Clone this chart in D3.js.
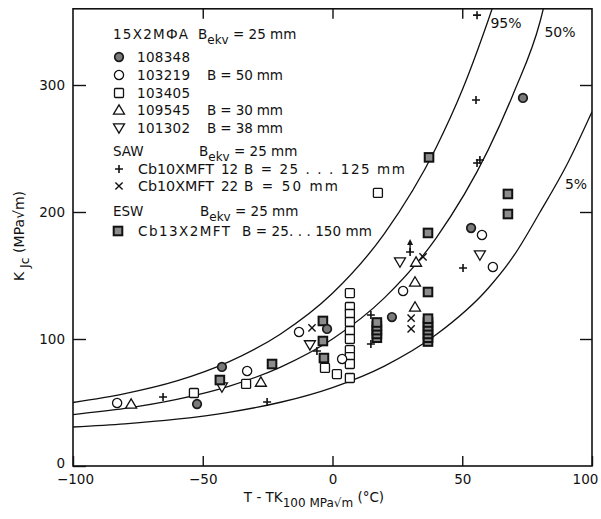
<!DOCTYPE html>
<html><head><meta charset="utf-8">
<script src="https://cdn.jsdelivr.net/npm/d3@7"></script>
<style>
body{margin:0;background:#fff;}
text{font-family:"DejaVu Sans",sans-serif;fill:#111;}
</style></head>
<body>
<svg id="c" width="601" height="519"></svg>
<script>
// ---- data ----
const xTicks = [-100, -50, 0, 50, 100];
const yTicks = [0, 100, 200, 300];

// master-curve lines (T - TK100, KJc)
const c95T = [-100, -80, -60, -40, -20, 0, 20, 40, 50, 60, 64];
const c95K = [50, 57, 67, 82, 104, 136, 183, 251, 296, 351, 375];
const c50T = [-100, -80, -60, -40, -20, 0, 20, 40, 60, 70, 80, 83];
const c50K = [40.5, 45.3, 52.4, 62.7, 77.9, 100, 132.4, 179.7, 248.9, 294.7, 350, 375];
const c5T = [-100, -80, -60, -40, -20, 0, 20, 40, 60, 70, 80, 90, 100];
const c5K = [30.7, 33.2, 36.9, 42.3, 50.2, 61.8, 78.7, 103.5, 140, 166, 200, 236, 279];
const curveLabels = ["95%", "50%", "5%"];

// 15X2MFA specimens
const s108348T = [-52.2, -42.6, -2.1, 22.9, 53.4, 73.4];
const s108348K = [48.8, 78.0, 107.9, 117.3, 187.4, 289.8];
const s103219T = [-83.0, -32.9, -12.9, 3.7, 27.2, 57.6, 61.8];
const s103219K = [49.6, 74.8, 105.5, 84.3, 137.8, 181.9, 156.7];
const s103405T = [-53.4, -33.3, -2.9, 1.7, 6.7, 6.7, 6.7, 6.7, 6.7, 6.7, 6.7, 6.7, 6.7, 6.7, 17.5];
const s103405K = [57.5, 64.6, 77.2, 72.4, 136.2, 125.2, 119.7, 113.4, 106.3, 100.0, 91.3, 85.8, 80.3, 69.3, 215];
const s109545T = [-77.6, -27.6, 31.8, 31.8, 32.2];
const s109545K = [48.8, 66.1, 125.2, 144.9, 160.6];
const s101302T = [-42.6, -8.7, 26.0, 56.8];
const s101302K = [62.2, 95.3, 160.6, 166.1];
// SAW
const saw12T = [-65.3, -25.2, -6.0, 14.8, 14.8, 29.9, 50.3, 55.7, 56.8, 55.3, 55.7];
const saw12K = [54.3, 50.4, 90.6, 118.9, 96.1, 168.5, 155.9, 238.6, 241, 288.2, 355];
const saw22T = [-7.9, 30.3, 30.3, 34.9];
const saw22K = [108.7, 116.5, 107.9, 164.6];
const arrowT = [29.9];
const arrowK = [168.5];
// ESW
const eswT = [-43.4, -23.3, -3.7, -3.7, -3.3, 17.1, 17.1, 17.1, 17.1, 17.1, 36.8, 36.8, 36.8, 36.8, 36.8, 36.8, 36.8, 36.8, 36.8, 37.2, 67.6, 67.6];
const eswK = [67.7, 80.3, 114.2, 98.4, 85.0, 101, 104, 107, 110, 113, 98, 101, 104, 107, 110, 113, 116, 137, 183.5, 243, 214.2, 198.4];

// ---- chart ----
const svg = d3.select("#c");
svg.append("rect").attr("width", 601).attr("height", 519).attr("fill", "#fff");
const x = d3.scaleLinear().domain([-100, 100]).range([73, 592]);
const y = d3.scaleLinear().domain([0, 360]).range([466, 8.8]);

svg.append("clipPath").attr("id", "clip").append("rect")
  .attr("x", 73).attr("y", 8.8).attr("width", 519).attr("height", 457.2);

// axes
const gL = svg.append("g").attr("transform", "translate(73,0)")
  .call(d3.axisLeft(y).tickValues(yTicks).tickSize(-13).tickPadding(8));
const gB = svg.append("g").attr("transform", "translate(0,466)")
  .call(d3.axisBottom(x).tickValues(xTicks).tickSize(-10).tickPadding(8));
const gT = svg.append("g").attr("transform", "translate(0,8.8)")
  .call(d3.axisTop(x).tickValues([-50, 0, 50]).tickSize(-10).tickFormat(""));
const gR = svg.append("g").attr("transform", "translate(592,0)")
  .call(d3.axisRight(y).tickValues([100, 200, 300]).tickSize(-12).tickFormat(""));
[gL, gB, gT, gR].forEach(g => {
  g.select(".domain").remove();
  g.selectAll("line").attr("stroke", "#111").attr("stroke-width", 1.4);
  g.selectAll("text").attr("font-family", "DejaVu Sans").attr("font-size", 13.5).attr("fill", "#111");
});
gB.selectAll(".tick text").attr("dx", d => d === 100 ? -7 : (d === -100 ? 2 : 0));
gL.selectAll(".tick text").attr("dy", d => d === 0 ? "0.1em" : "0.32em");

svg.append("rect").attr("x", 73).attr("y", 8.8).attr("width", 519).attr("height", 457.2)
  .attr("fill", "none").attr("stroke", "#111").attr("stroke-width", 1.6);

// curves
const line = d3.line().x(d => x(d[0])).y(d => y(d[1])).curve(d3.curveMonotoneX);
const curves = [[c95T, c95K], [c50T, c50K], [c5T, c5K]];
const cg = svg.append("g").attr("clip-path", "url(#clip)");
curves.forEach(([T, K]) => {
  cg.append("path").attr("d", line(T.map((t, i) => [t, K[i]])))
    .attr("fill", "none").attr("stroke", "#111").attr("stroke-width", 1.3);
});
const clPos = [[506, 28], [560, 37], [576, 189]];
curveLabels.forEach((t, i) => svg.append("text").attr("x", clPos[i][0]).attr("y", clPos[i][1])
  .attr("text-anchor", "middle").attr("font-size", 14).text(t));

// markers
function mk(g, type, cx, cy) {
  const s = g.append("g").attr("transform", `translate(${cx},${cy})`);
  if (type === "fcirc") s.append("circle").attr("r", 4.3).attr("fill", "#7a7a7a").attr("stroke", "#1a1a1a").attr("stroke-width", 1.7);
  else if (type === "ocirc") s.append("circle").attr("r", 4.6).attr("fill", "#fff").attr("stroke", "#111").attr("stroke-width", 1.3);
  else if (type === "osq") s.append("rect").attr("x", -4.5).attr("y", -4.5).attr("width", 9).attr("height", 9).attr("rx", 1).attr("fill", "#fff").attr("stroke", "#111").attr("stroke-width", 1.3);
  else if (type === "fsq") s.append("rect").attr("x", -4.3).attr("y", -4.3).attr("width", 8.6).attr("height", 8.6).attr("fill", "#8c8c8c").attr("stroke", "#111").attr("stroke-width", 2);
  else if (type === "tri") s.append("path").attr("d", "M0,-5.2L5.5,4.2L-5.5,4.2Z").attr("fill", "#fff").attr("stroke", "#111").attr("stroke-width", 1.3);
  else if (type === "dtri") s.append("path").attr("d", "M0,5.2L5.5,-4.2L-5.5,-4.2Z").attr("fill", "#fff").attr("stroke", "#111").attr("stroke-width", 1.3);
  else if (type === "plus") s.append("path").attr("d", "M-4,0H4M0,-4V4").attr("stroke", "#111").attr("stroke-width", 1.6);
  else if (type === "times") s.append("path").attr("d", "M-3.6,-3.6L3.6,3.6M-3.6,3.6L3.6,-3.6").attr("stroke", "#111").attr("stroke-width", 1.4);
}
const pg = svg.append("g");
const series = [
  ["osq", s103405T, s103405K], ["ocirc", s103219T, s103219K], ["tri", s109545T, s109545K],
  ["dtri", s101302T, s101302K], ["fsq", eswT, eswK], ["fcirc", s108348T, s108348K],
  ["times", saw22T, saw22K], ["plus", saw12T, saw12K]
];
series.forEach(([type, T, K]) => T.forEach((t, i) => mk(pg, type, x(t), y(K[i]))));
arrowT.forEach((t, i) => {
  const cx = x(t), cy = y(arrowK[i]);
  pg.append("path").attr("d", `M${cx},${cy}V${cy - 9}`).attr("stroke", "#111").attr("stroke-width", 1.4);
  pg.append("path").attr("d", `M${cx},${cy - 13}L${cx + 3},${cy - 7}L${cx - 3},${cy - 7}Z`).attr("fill", "#111");
});

// legend
const lg = svg.append("g");
function txt(xx, yy, parts, len, adj) {
  const t = lg.append("text").attr("x", xx).attr("y", yy).attr("dy", "0.35em").attr("font-size", 13.5);
  if (parts.length === 1) {
    t.text(parts[0].t);
    if (len) t.attr("textLength", len).attr("lengthAdjust", adj || "spacing");
  } else {
    parts.forEach(p => {
      const ts = t.append("tspan").text(p.t);
      if (p.sub) ts.attr("font-size", 12).attr("dy", 5);
      if (p.up) ts.attr("dy", -5);
    });
  }
  return t;
}
const bekv = [{t: "B"}, {t: "ekv", sub: true}, {t: " = 25 mm", up: true}];
txt(113, 34, [{t: "15Х2МФА"}], 75); txt(198, 34, bekv);
mk(lg, "fcirc", 119, 57); txt(137, 57, [{t: "108348"}], 53);
mk(lg, "ocirc", 119, 75); txt(137, 75, [{t: "103219"}], 53); txt(207, 75, [{t: "B = 50 mm"}], 76);
mk(lg, "osq", 119, 93); txt(137, 93, [{t: "103405"}], 53);
mk(lg, "tri", 119, 110); txt(137, 110, [{t: "109545"}], 53); txt(207, 110, [{t: "B = 30 mm"}], 76);
mk(lg, "dtri", 119, 128); txt(137, 128, [{t: "101302"}], 53); txt(207, 128, [{t: "B = 38 mm"}], 76);
txt(113, 151, [{t: "SAW"}]); txt(199, 151, bekv);
mk(lg, "plus", 119, 169); txt(138, 169, [{t: "Cb10XMFT"}], 76, "spacingAndGlyphs"); txt(221, 169, [{t: "12"}]); txt(244, 169, [{t: "B = 25 . . . 125 mm"}], 161);
mk(lg, "times", 119, 186); txt(138, 186, [{t: "Cb10XMFT"}], 76, "spacingAndGlyphs"); txt(221, 186, [{t: "22"}]); txt(244, 186, [{t: "B = 50 mm"}], 94);
txt(113, 211, [{t: "ESW"}]); txt(200, 211, bekv);
mk(lg, "fsq", 118, 231); txt(138, 231, [{t: "Cb13X2MFT"}], 92); txt(242, 231, [{t: "B = 25. . . 150 mm"}], 130);

// axis titles
const xt = svg.append("text").attr("x", 314).attr("y", 502).attr("text-anchor", "middle").attr("font-size", 13.5);
xt.append("tspan").text("T - TK");
xt.append("tspan").attr("font-size", 12).attr("dy", 5).text("100 MPa√m");
xt.append("tspan").attr("dy", -5).text("  (°C)");
const yt = svg.append("text").attr("transform", "translate(24,236) rotate(-90)").attr("text-anchor", "middle").attr("font-size", 14);
yt.append("tspan").text("K");
yt.append("tspan").attr("font-size", 12.5).attr("dy", 5).text(" Jc");
yt.append("tspan").attr("dy", -5).text("   (MPa√m)");
</script>
</body></html>
